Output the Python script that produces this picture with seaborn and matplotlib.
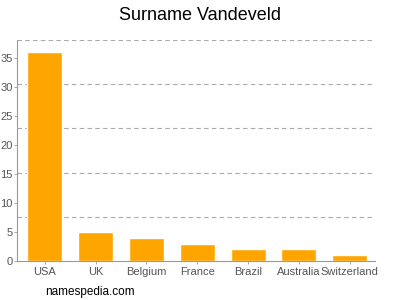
import matplotlib
matplotlib.use("Agg")
import matplotlib.pyplot as plt
import seaborn as sns
import pandas as pd
from matplotlib.ticker import MultipleLocator

countries = ["USA", "UK", "Belgium", "France", "Brazil", "Australia", "Switzerland"]
counts = [36, 5, 4, 3, 2, 2, 1]
yticks = [0, 5, 10, 15, 20, 25, 30, 35]

sns.set_style("white")
plt.rcParams['font.family'] = ['Liberation Sans', 'DejaVu Sans']

df = pd.DataFrame({"country": countries, "count": counts})
fig = plt.figure(figsize=(4, 3), dpi=100)
ax = fig.add_axes([0.0425, 0.13, 0.895, 0.7367])
sns.barplot(data=df, x="country", y="count", color="#FFA500", width=0.69,
            saturation=1, ax=ax)

ymax = 38.1
ax.set_ylim(0, ymax)
ax.set_xlim(-0.55, 6.5)
ax.set_yticks(yticks)
ax.yaxis.set_minor_locator(MultipleLocator(ymax / 5))
ax.grid(False)
ax.grid(True, which="minor", axis="y", color="#aaaaaa", linestyle=(0, (4, 3)), linewidth=0.8)
ax.set_axisbelow(True)
ax.set_xlabel("")
ax.set_ylabel("")
for s in ["top", "right"]:
    ax.spines[s].set_visible(False)
for s in ["left", "bottom"]:
    ax.spines[s].set_color("#999999")
    ax.spines[s].set_linewidth(0.8)
ax.tick_params(axis="both", which="major", labelsize=8, colors="#999999",
               labelcolor="#555555", length=2.5, width=0.6, direction="out",
               left=True, bottom=True)
ax.tick_params(axis="y", which="major", pad=0.5)
ax.tick_params(axis="x", which="major", pad=2)
ax.tick_params(axis="y", which="minor", length=0)

fig.text(0.5, 0.95, "Surname Vandeveld", ha="center", va="center", fontsize=13, color="#000000")
fig.text(0.112, 0.027, "namespedia.com", ha="left", va="center", fontsize=8.5, color="#000000")

fig.savefig("out.png", dpi=100)
